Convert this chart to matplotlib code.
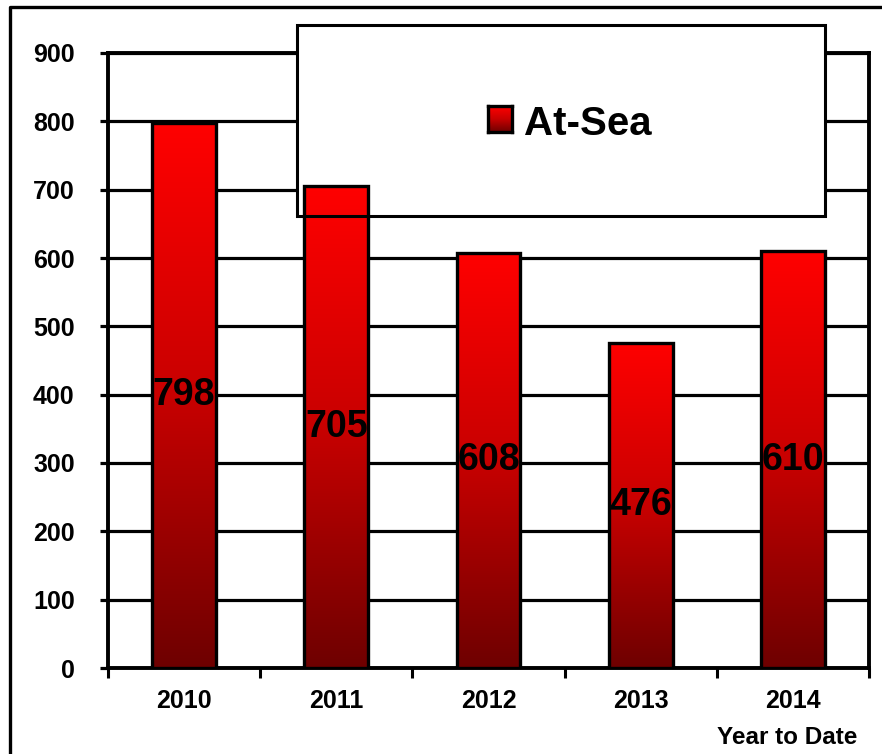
import numpy as np
import matplotlib
matplotlib.use("Agg")
import matplotlib.pyplot as plt
from matplotlib.patches import Rectangle
from matplotlib.lines import Line2D
from matplotlib.colors import LinearSegmentedColormap

years = ["2010", "2011", "2012", "2013", "2014"]
at_sea = [798, 705, 608, 476, 610]
y_ticks = [0, 100, 200, 300, 400, 500, 600, 700, 800, 900]

plt.rcParams["font.family"] = ["Liberation Sans", "DejaVu Sans"]
plt.rcParams["font.weight"] = "bold"

W, H = 882, 754
fig = plt.figure(figsize=(W / 100, H / 100), dpi=100)
ax = fig.add_axes([108 / W, 1 - 668 / H, (869 - 108) / W, (668 - 53) / H])

# red -> dark red gradient like the excel fill
cmap = LinearSegmentedColormap.from_list(
    "redgrad", [(0, "#6e0000"), (0.5, "#c80000"), (1, "#ff0000")])
grad = np.linspace(0, 1, 256).reshape(-1, 1)

x = np.arange(len(years))
bars = ax.bar(x, at_sea, width=0.42, facecolor="none", edgecolor="black",
              linewidth=2.4, zorder=3)
for b in bars:
    x0, y0, w, h = b.get_x(), b.get_y(), b.get_width(), b.get_height()
    im = ax.imshow(grad, cmap=cmap, extent=[x0, x0 + w, y0, y0 + h],
                   origin="lower", aspect="auto", zorder=2.5)
    im.set_clip_path(b)

for xi, v in zip(x, at_sea):
    ax.text(xi, v / 2, str(v), ha="center", va="center", fontsize=27,
            fontweight="bold", color="black", zorder=5)

ax.set_xlim(-0.5, len(years) - 0.5)
ax.set_ylim(0, 900)
ax.set_yticks(y_ticks)
ax.yaxis.grid(True, color="black", linewidth=2.3)
ax.set_axisbelow(True)
for s in ax.spines.values():
    s.set_linewidth(2.8)
    s.set_zorder(1)

ax.tick_params(axis="y", direction="out", length=6, width=2.3, pad=18,
               labelsize=18)
ax.set_xticks(x, years)
ax.set_xticks(np.arange(len(years) + 1) - 0.5, minor=True)
ax.tick_params(axis="x", which="major", length=0, pad=15, labelsize=18)
ax.tick_params(axis="x", which="minor", direction="out", length=7.5, width=2.2)

# legend box: white fill under the bars, border on top
lx0, lx1, ly0, ly1 = 297 / W, 825 / W, 1 - 216 / H, 1 - 25 / H
ax.add_artist(Rectangle((lx0, ly0), lx1 - lx0, ly1 - ly0, transform=fig.transFigure,
                        facecolor="white", edgecolor="none", zorder=1.5, clip_on=False))
ax.add_artist(Rectangle((lx0, ly0), lx1 - lx0, ly1 - ly0, transform=fig.transFigure,
                        facecolor="none", edgecolor="black", linewidth=2.2, zorder=4,
                        clip_on=False))

lax = fig.add_axes([488 / W, 1 - 132 / H, 24 / W, 26 / H])
lax.imshow(grad, cmap=cmap, origin="lower", aspect="auto")
lax.set_xticks([])
lax.set_yticks([])
for s in lax.spines.values():
    s.set_linewidth(2.4)
fig.text(524 / W, 1 - 135 / H, "At-Sea", fontsize=29, fontweight="bold",
         va="baseline")

fig.text(787 / W, 1 - 737 / H, "Year to Date", ha="center", va="center",
         fontsize=17.5, fontweight="bold")

# outer frame (only left and top visible)
fig.add_artist(Line2D([10 / W, 10 / W, 1], [0, 1 - 7 / H, 1 - 7 / H],
                      transform=fig.transFigure, color="black", linewidth=2.4))

fig.savefig("out.png", dpi=100)
